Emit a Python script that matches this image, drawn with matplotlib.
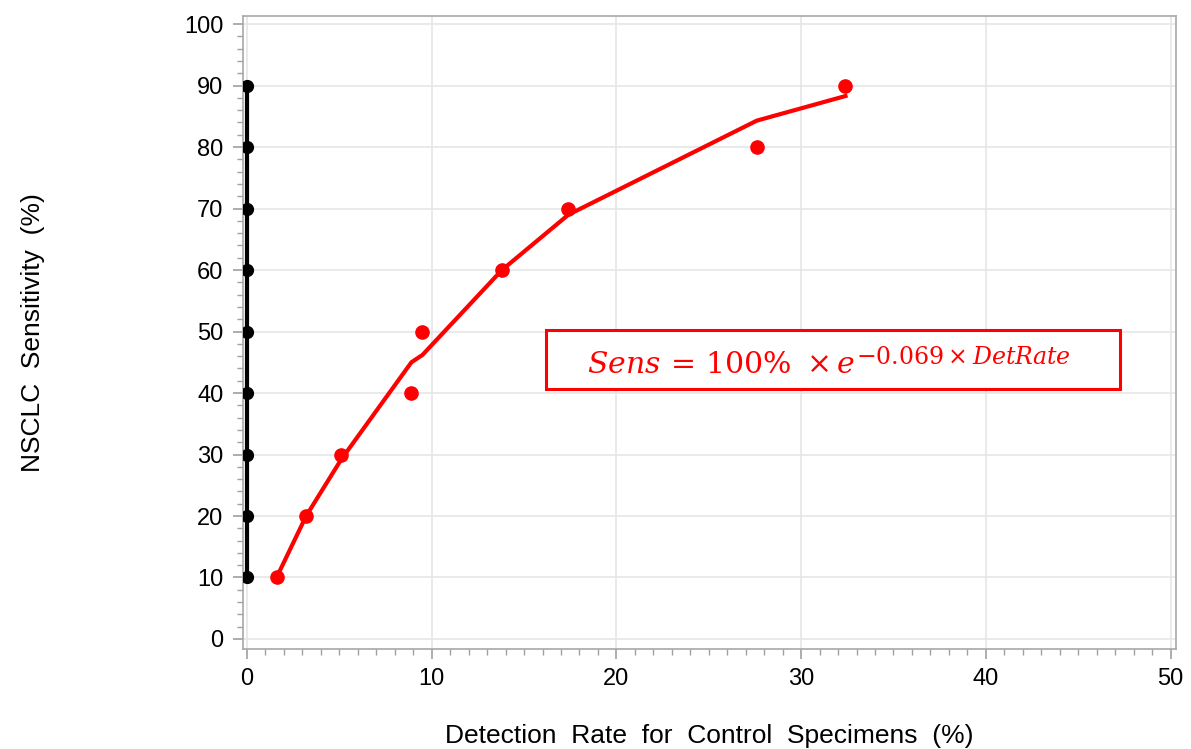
import matplotlib
matplotlib.use("Agg")
import matplotlib.pyplot as plt
from matplotlib.ticker import MultipleLocator
from matplotlib.patches import Rectangle

# data
det_rate = [1.6, 3.2, 5.1, 8.9, 9.5, 13.8, 17.4, 27.6, 32.4]
sens = [10, 20, 30, 40, 50, 60, 70, 80, 90]
sens_fit = [10.0, 20.0, 29.2, 45.0, 46.2, 60.0, 69.0, 84.3, 88.3]
ctrl_x = [0, 0, 0, 0, 0, 0, 0, 0, 0]
ctrl_y = [10, 20, 30, 40, 50, 60, 70, 80, 90]

plt.rcParams['font.family'] = ['Liberation Sans', 'DejaVu Sans']

fig = plt.figure(figsize=(11.91, 7.49), dpi=100)
ax = fig.add_axes([0.204, 0.1335, 0.783, 0.845])

# black reference line at 0 %
ax.plot(ctrl_x, ctrl_y, color='black', lw=3, marker='o', ms=8.5, zorder=3)
# red fit line + observed points
ax.plot(det_rate, sens_fit, color='#ff0000', lw=3, zorder=3)
ax.plot(det_rate, sens, 'o', color='#ff0000', ms=9.5, zorder=4)

ax.set_xlim(-0.22, 50.27)
ax.set_ylim(-1.63, 101.3)
ax.xaxis.set_major_locator(MultipleLocator(10))
ax.xaxis.set_minor_locator(MultipleLocator(1))
ax.yaxis.set_major_locator(MultipleLocator(10))
ax.yaxis.set_minor_locator(MultipleLocator(2))

ax.grid(True, which='major', color='#e6e6e6', lw=1.2)
ax.set_axisbelow(True)
for s in ax.spines.values():
    s.set_color('#a8a8a8')
    s.set_linewidth(1.2)

ax.tick_params(which='major', length=7, width=1.2, color='#a0a0a0',
               labelsize=17, pad=7)
ax.tick_params(which='minor', length=4, width=1, color='#a0a0a0')

ax.set_xlabel('Detection  Rate  for  Control  Specimens  (%)', fontsize=19, labelpad=24)
ax.set_ylabel('NSCLC  Sensitivity  (%)', fontsize=19, labelpad=100)

# formula box
ax.add_patch(Rectangle((16.18, 40.65), 31.06, 9.6, fill=True, fc='white',
                       ec='#ff0000', lw=2.2, zorder=5))
t1 = ax.text(18.4, 43.25, r'$Sens\,=\,100\%\ \times e$', color='#ff0000',
             fontsize=21.5, ha='left', va='baseline', math_fontfamily='dejavuserif',
             zorder=6)
ax.annotate(r'$-0.069\times DetRate$', xy=(1, 0), xycoords=t1,
            xytext=(0.5, 11), textcoords='offset points', color='#ff0000',
            fontsize=17, ha='left', va='baseline', math_fontfamily='dejavuserif',
            zorder=6)

fig.savefig('out.png', dpi=100)
